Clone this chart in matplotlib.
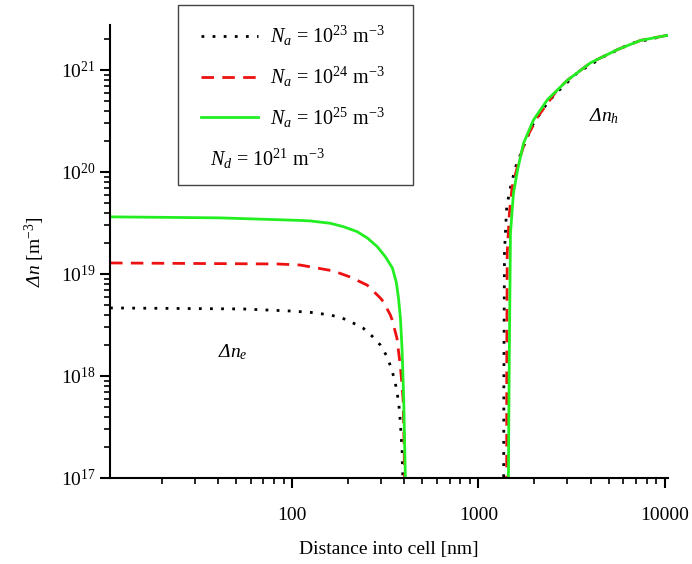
import matplotlib
matplotlib.use("Agg")
import matplotlib.pyplot as plt
from matplotlib.patches import Rectangle
from matplotlib.ticker import LogLocator, FixedLocator, NullFormatter

plt.rcParams['font.family'] = ['Liberation Serif', 'DejaVu Serif']
plt.rcParams['mathtext.fontset'] = 'custom'
plt.rcParams['mathtext.rm'] = 'Liberation Serif'
plt.rcParams['mathtext.it'] = 'Liberation Serif:italic'
# italic capital Delta (mathtext forces Greek capitals upright in \mathit)
plt.rcParams['mathtext.sf'] = 'Liberation Serif:italic'
plt.rcParams['mathtext.default'] = 'rm'

# electron side (depletion edge near 400 nm), distance in nm, log10 of density
xe_23 = [10.5, 54.5, 97.5, 125, 160, 185, 212, 240, 268, 297, 323, 340, 355, 365,
         373, 378, 382, 385, 389, 390, 392, 393]
ye_23 = [18.667, 18.657, 18.637, 18.624, 18.598, 18.569, 18.52, 18.47, 18.392,
         18.304, 18.19, 18.078, 17.96, 17.846, 17.735, 17.618, 17.503, 17.392,
         17.275, 17.16, 17.06, 16.9]
xe_24 = [10.5, 83, 110, 125, 166, 205, 253, 297, 308, 336, 344, 365, 381, 389,
         394, 398, 401, 402]
ye_24 = [19.108, 19.098, 19.088, 19.07, 19.03, 18.97, 18.89, 18.765, 18.73, 18.6,
         18.55, 18.37, 18.09, 17.9, 17.765, 17.4, 17.05, 16.9]
xe_25 = [10.5, 41, 110, 125, 160, 188, 223, 253, 286, 316, 345, 362, 372, 381,
         386, 389, 397, 402, 405, 406]
ye_25 = [19.56, 19.55, 19.525, 19.52, 19.497, 19.464, 19.415, 19.353, 19.268,
         19.17, 19.059, 18.92, 18.765, 18.569, 18.373, 18.255, 17.765, 17.275,
         17.01, 16.9]

# hole side (rising after ~1400 nm)
xh_23 = [1366, 1370, 1380, 1393, 1419, 1486, 1585, 1746, 1952, 2350, 2640, 3390,
         4700, 6590, 10370]
yh_23 = [16.9, 18.0, 19.206, 19.363, 19.66, 19.85, 20.05, 20.25, 20.46, 20.68,
         20.78, 20.97, 21.13, 21.26, 21.34]
xh_24 = [1418, 1420, 1428, 1467, 1516, 1640, 1786, 2080, 2640, 3008, 3998, 5586,
         7430, 10370]
yh_24 = [16.9, 18.2, 19.21, 19.6, 19.85, 20.09, 20.31, 20.54, 20.8, 20.9, 21.07,
         21.20, 21.29, 21.34]
xh_25 = [1448, 1455, 1465, 1480, 1486, 1542, 1622, 1746, 1976, 2350, 3008, 3998,
         5586, 7430, 10370]
yh_25 = [16.9, 17.5, 18.2, 19.04, 19.40, 19.79, 20.02, 20.28, 20.51, 20.71, 20.90,
         21.07, 21.20, 21.29, 21.34]

labels = [r'$\mathit{N_a}$ = 10$^{23}$ m$^{-3}$', r'$\mathit{N_a}$ = 10$^{24}$ m$^{-3}$',
          r'$\mathit{N_a}$ = 10$^{25}$ m$^{-3}$']
nd_label = r'$\mathit{N_d}$ = 10$^{21}$ m$^{-3}$'

fig = plt.figure(figsize=(6.92, 5.64), dpi=100)
ax = fig.add_axes([0.159, 0.1525, 0.806, 0.8032])

styles = [dict(color='black', linestyle=(0, (1, 3)), linewidth=2.0),
          dict(color='#ee1111', linestyle=(0, (4.5, 3)), linewidth=2.0),
          dict(color='#22ee22', linestyle='-', linewidth=2.0)]
series = [(xe_23, ye_23, xh_23, yh_23), (xe_24, ye_24, xh_24, yh_24),
          (xe_25, ye_25, xh_25, yh_25)]

handles = []
for (xe, ye, xh, yh), st, lab in zip(series, styles, labels):
    h, = ax.plot(xe, [10 ** v for v in ye], label=lab, **st)
    ax.plot(xh, [10 ** v for v in yh], **st)
    handles.append(h)

ax.set_xscale('log')
ax.set_yscale('log')
ax.set_xlim(10.5, 10400)
ax.set_ylim(1e17, 2.76e21)

for s in ['top', 'right']:
    ax.spines[s].set_visible(False)
for s in ['left', 'bottom']:
    ax.spines[s].set_linewidth(1.5)

ax.xaxis.set_major_locator(FixedLocator([100, 1000, 10000]))
ax.xaxis.set_minor_locator(LogLocator(base=10, subs=range(2, 10), numticks=20))
ax.xaxis.set_minor_formatter(NullFormatter())
ax.set_xticklabels(['100', '1000', '10000'])
ax.yaxis.set_major_locator(FixedLocator([1e17, 1e18, 1e19, 1e20, 1e21]))
ax.yaxis.set_minor_locator(LogLocator(base=10, subs=range(2, 10), numticks=20))
ax.yaxis.set_minor_formatter(NullFormatter())
ax.set_yticklabels([r'10$^{%d}$' % e for e in range(17, 22)])
ax.tick_params(which='major', length=7, width=1.5, labelsize=14, direction='out')
ax.tick_params(which='minor', length=4, width=1.2, direction='out')
ax.tick_params(axis='x', pad=14)

ax.set_xlabel('Distance into cell [nm]', fontsize=14, labelpad=12)
ax.set_ylabel(r'$\mathsf{Δ}\mathit{n}$ [m$^{-3}$]', fontsize=14, labelpad=10)

ax.text(48, 1.7e18, r'$\mathsf{Δ}\mathit{n_e}$', fontsize=14, ha='center', va='center')
ax.text(4750, 3.5e20, r'$\mathsf{Δ}\mathit{n_h}$', fontsize=14, ha='center', va='center')

# legend box
ax.add_patch(Rectangle((0.122, 0.647), 0.421, 0.397, transform=ax.transAxes,
                       fill=False, edgecolor='#444444', linewidth=1.0,
                       clip_on=False))
ax.legend(handles=handles, loc='upper left', bbox_to_anchor=(0.131, 1.042),
          frameon=False, fontsize=14.5, handlelength=2.8, handletextpad=0.6,
          labelspacing=0.82)
ax.text(0.18, 0.705, nd_label, transform=ax.transAxes, fontsize=14.5,
        ha='left', va='center')

fig.savefig('out.png', dpi=100)
